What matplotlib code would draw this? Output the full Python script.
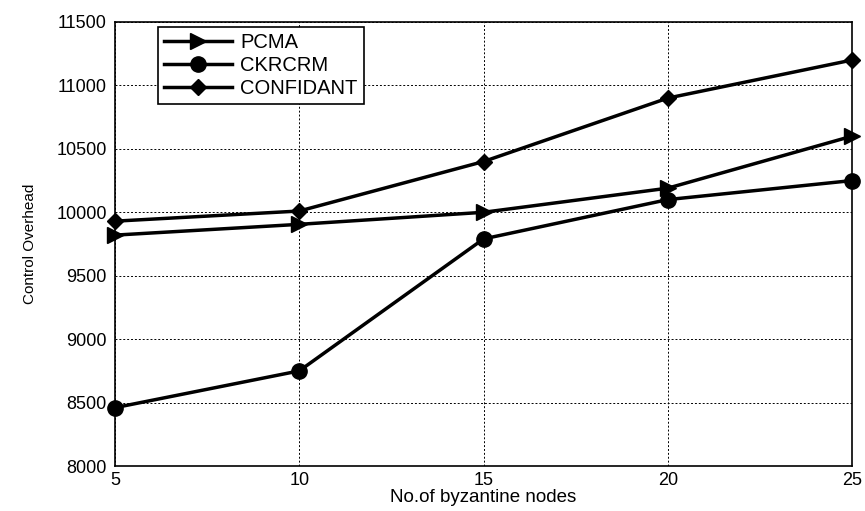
import matplotlib
matplotlib.use('Agg')
from matplotlib import pyplot as plt

plt.rcParams['font.family'] = ['Liberation Sans', 'DejaVu Sans']

nodes = [5, 10, 15, 20, 25]
pcma = [9820, 9905, 10000, 10190, 10600]
ckrcrm = [8460, 8750, 9790, 10100, 10250]
confidant = [9930, 10010, 10400, 10900, 11200]

fig = plt.figure(figsize=(8.65, 5.11), dpi=100)
ax = fig.add_axes([0.133, 0.088, 0.852, 0.869])

ax.plot(nodes, pcma, color='black', lw=2.5, marker='>', ms=12, label='PCMA', clip_on=False, zorder=3)
ax.plot(nodes, ckrcrm, color='black', lw=2.5, marker='o', ms=11, label='CKRCRM', clip_on=False, zorder=3)
ax.plot(nodes, confidant, color='black', lw=2.5, marker='D', ms=8.5, label='CONFIDANT', clip_on=False, zorder=3)

ax.set_xlim(5, 25)
ax.set_ylim(8000, 11500)
ax.set_xticks(nodes)
ax.set_yticks(range(8000, 11501, 500))
ax.tick_params(axis='x', labelsize=13, direction='in', length=0, pad=4)
ax.tick_params(axis='y', labelsize=13, direction='in', length=0, pad=6)
ax.grid(True, color='black', linestyle=(0, (2, 2)), linewidth=0.7)
for s in ax.spines.values():
    s.set_linewidth(1.2)

ax.set_xlabel('No.of byzantine nodes', fontsize=13.5, labelpad=0)
ax.set_ylabel('Control Overhead', fontsize=11, labelpad=14)

leg = ax.legend(loc='upper left', bbox_to_anchor=(0.058, 0.989), borderaxespad=0, fontsize=14.5,
                fancybox=False, framealpha=1, edgecolor='black',
                handlelength=3.4, borderpad=0.3, labelspacing=0.2, handletextpad=0.4)
leg.get_frame().set_linewidth(1.2)

fig.savefig('out.png', dpi=100)
